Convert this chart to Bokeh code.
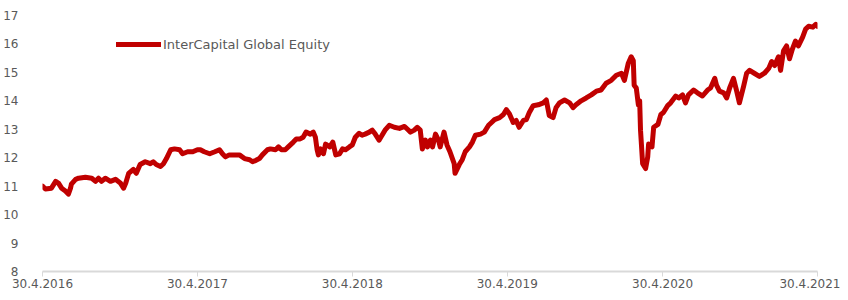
import pandas as pd
from bokeh.plotting import figure
from bokeh.models import FixedTicker, Range1d, Legend, LegendItem
from bokeh.embed import file_html
from bokeh.resources import INLINE

series_name = "InterCapital Global Equity"

dates = [
    "2016-04-30", "2016-05-07", "2016-05-21", "2016-05-31", "2016-06-07", "2016-06-14",
    "2016-06-23", "2016-06-30", "2016-07-05", "2016-07-07", "2016-07-17", "2016-07-24",
    "2016-08-09", "2016-08-24", "2016-09-02", "2016-09-09", "2016-09-16", "2016-09-25",
    "2016-10-07", "2016-10-19", "2016-10-31", "2016-11-07", "2016-11-12", "2016-11-19",
    "2016-11-30", "2016-12-07", "2016-12-16", "2016-12-28", "2017-01-09", "2017-01-16",
    "2017-01-23", "2017-02-02", "2017-02-09", "2017-02-16", "2017-02-26", "2017-03-07",
    "2017-03-19", "2017-03-26", "2017-04-07", "2017-04-19", "2017-04-30",
    "2017-05-07", "2017-05-16", "2017-05-29", "2017-06-10", "2017-06-21", "2017-06-28",
    "2017-07-05", "2017-07-14", "2017-07-26", "2017-08-07", "2017-08-19", "2017-08-31",
    "2017-09-07", "2017-09-14", "2017-09-23", "2017-09-30", "2017-10-12", "2017-10-19",
    "2017-10-31", "2017-11-07", "2017-11-14", "2017-11-23", "2017-11-30", "2017-12-12",
    "2017-12-19", "2017-12-28", "2018-01-04", "2018-01-11", "2018-01-21", "2018-01-28",
    "2018-02-02", "2018-02-06", "2018-02-09", "2018-02-14", "2018-02-21", "2018-02-26",
    "2018-03-08", "2018-03-15", "2018-03-22", "2018-03-31", "2018-04-07", "2018-04-14",
    "2018-04-23", "2018-04-30", "2018-05-07", "2018-05-16",
    "2018-05-23", "2018-05-30", "2018-06-09", "2018-06-16", "2018-06-23", "2018-07-02",
    "2018-07-09", "2018-07-16", "2018-07-26", "2018-08-07", "2018-08-19", "2018-08-31",
    "2018-09-07", "2018-09-14", "2018-09-23", "2018-09-30", "2018-10-07", "2018-10-12",
    "2018-10-19", "2018-10-24", "2018-10-31", "2018-11-05", "2018-11-12", "2018-11-19",
    "2018-11-23", "2018-12-02", "2018-12-09", "2018-12-16", "2018-12-26", "2018-12-28",
    "2019-01-07", "2019-01-14", "2019-01-21", "2019-01-31", "2019-02-07", "2019-02-14",
    "2019-02-26", "2019-03-07", "2019-03-17", "2019-03-24", "2019-03-31", "2019-04-12",
    "2019-04-21", "2019-04-28",
    "2019-05-05", "2019-05-14", "2019-05-21", "2019-05-28", "2019-06-07", "2019-06-14",
    "2019-06-21", "2019-06-30", "2019-07-12", "2019-07-24", "2019-07-31", "2019-08-07",
    "2019-08-16", "2019-08-23", "2019-08-31", "2019-09-12", "2019-09-24", "2019-10-02",
    "2019-10-09", "2019-10-21", "2019-11-02", "2019-11-14", "2019-11-26", "2019-12-07",
    "2019-12-19", "2019-12-31", "2020-01-12", "2020-01-24", "2020-01-31", "2020-02-09",
    "2020-02-16", "2020-02-21", "2020-02-23", "2020-02-28", "2020-03-04", "2020-03-07",
    "2020-03-09", "2020-03-14", "2020-03-21", "2020-03-26", "2020-03-28", "2020-04-05",
    "2020-04-09", "2020-04-19", "2020-04-26", "2020-05-02", "2020-05-12", "2020-05-19",
    "2020-05-31", "2020-06-07", "2020-06-16", "2020-06-23", "2020-06-30", "2020-07-12",
    "2020-07-21", "2020-08-02", "2020-08-14", "2020-08-21", "2020-08-31", "2020-09-04",
    "2020-09-11", "2020-09-21", "2020-09-28", "2020-10-05", "2020-10-14", "2020-10-21",
    "2020-10-28", "2020-11-07", "2020-11-14", "2020-11-21", "2020-12-02", "2020-12-14",
    "2020-12-26", "2021-01-05", "2021-01-12", "2021-01-19", "2021-01-28", "2021-02-02",
    "2021-02-09", "2021-02-16", "2021-02-23", "2021-03-02", "2021-03-09", "2021-03-16",
    "2021-03-26", "2021-04-02", "2021-04-09", "2021-04-19", "2021-04-26", "2021-04-30",
]

values = [
    11.00, 10.90, 10.93, 11.17, 11.10, 10.93,
    10.83, 10.72, 10.93, 11.07, 11.24, 11.28,
    11.31, 11.28, 11.17, 11.28, 11.17, 11.28,
    11.17, 11.24, 11.10, 10.93, 11.10, 11.45,
    11.59, 11.45, 11.76, 11.86, 11.79, 11.86,
    11.76, 11.69, 11.79, 11.97, 12.28, 12.31,
    12.28, 12.14, 12.21, 12.21, 12.28,
    12.28, 12.21, 12.14, 12.21, 12.28, 12.14,
    12.03, 12.10, 12.10, 12.10, 11.97, 11.93,
    11.86, 11.90, 11.97, 12.10, 12.28, 12.31,
    12.28, 12.38, 12.28, 12.28, 12.38, 12.55,
    12.66, 12.66, 12.72, 12.90, 12.83, 12.90,
    12.72, 12.28, 12.10, 12.31, 12.14, 12.48,
    12.38, 12.55, 12.10, 12.14, 12.31, 12.28,
    12.38, 12.45, 12.72, 12.86,
    12.79, 12.83, 12.90, 12.97, 12.83, 12.62,
    12.79, 12.97, 13.14, 13.07, 13.03, 13.10,
    13.00, 12.90, 12.97, 13.07, 12.97, 12.31,
    12.62, 12.38, 12.62, 12.38, 12.83, 12.62,
    12.38, 12.90, 12.45, 12.21, 11.79, 11.45,
    11.76, 11.93, 12.21, 12.38, 12.55, 12.79,
    12.83, 12.90, 13.14, 13.24, 13.34, 13.41,
    13.52, 13.69,
    13.55, 13.24, 13.31, 13.07, 13.31, 13.34,
    13.59, 13.83, 13.86, 13.93, 14.03, 13.48,
    13.41, 13.76, 13.93, 14.03, 13.93, 13.76,
    13.86, 14.00, 14.10, 14.21, 14.34, 14.38,
    14.62, 14.72, 14.90, 14.97, 14.72, 15.31,
    15.55, 15.41, 14.55, 14.45, 13.86, 14.00,
    12.97, 11.79, 11.62, 12.03, 12.48, 12.38,
    13.07, 13.17, 13.52, 13.59, 13.83, 13.93,
    14.17, 14.10, 14.21, 13.93, 14.21, 14.38,
    14.28, 14.17, 14.38, 14.45, 14.79, 14.55,
    14.34, 14.28, 14.10, 14.45, 14.79, 14.38,
    13.93, 14.52, 14.97, 15.07, 14.97, 14.86,
    14.97, 15.14, 15.38, 15.24, 15.55, 15.07,
    15.76, 15.93, 15.48, 15.83, 16.10, 15.93,
    16.24, 16.52, 16.62, 16.59, 16.69, 16.62,
]

tick_dates = ["2016-04-30", "2017-04-30", "2018-04-30", "2019-04-30", "2020-04-30", "2021-04-30"]
tick_labels = ["30.4.2016", "30.4.2017", "30.4.2018", "30.4.2019", "30.4.2020", "30.4.2021"]
y_ticks = [8, 9, 10, 11, 12, 13, 14, 15, 16, 17]

FONT = "DejaVu Sans"
GREY = "#595959"

x = pd.to_datetime(dates)
tick_ms = [pd.Timestamp(d).value / 1e6 for d in tick_dates]

p = figure(width=840, height=292, x_axis_type="datetime",
           output_backend="svg", toolbar_location=None,
           x_range=Range1d(tick_ms[0], tick_ms[-1]),
           y_range=Range1d(8, 17),
           min_border_left=39, min_border_right=23,
           min_border_top=15, min_border_bottom=21)
p.outline_line_color = None
p.background_fill_color = "white"
p.border_fill_color = "white"
p.xgrid.visible = False
p.ygrid.visible = False

r = p.line(x, values, line_color="#c00000", line_width=5,
           line_join="round", line_cap="round")

# x axis
xa = p.xaxis[0]
xa.ticker = FixedTicker(ticks=tick_ms, minor_ticks=[])
xa.major_label_overrides = {t: lab for t, lab in zip(tick_ms, tick_labels)}
xa.axis_line_color = "#d9d9d9"
xa.axis_line_width = 2
xa.major_tick_line_color = "#d9d9d9"
xa.major_tick_line_width = 1
xa.major_tick_in = 0
xa.major_tick_out = 5
xa.minor_tick_line_color = None
xa.major_label_standoff = 2
xa.major_label_text_font = FONT
xa.major_label_text_font_size = "12px"
xa.major_label_text_color = GREY

# y axis
ya = p.yaxis[0]
ya.ticker = FixedTicker(ticks=y_ticks, minor_ticks=[])
ya.axis_line_color = None
ya.major_tick_line_color = None
ya.minor_tick_line_color = None
ya.major_label_standoff = 18
ya.major_label_text_font = FONT
ya.major_label_text_font_size = "12px"
ya.major_label_text_color = GREY

legend = Legend(items=[LegendItem(label=series_name, renderers=[r])],
                location=(74, 217), orientation="vertical",
                glyph_width=45, glyph_height=20, label_standoff=2,
                padding=0, margin=0, spacing=0,
                border_line_color=None, background_fill_alpha=0,
                label_text_font=FONT, label_text_font_size="13px",
                label_text_color=GREY)
p.add_layout(legend)

open("out.html", "w").write(file_html(p, INLINE))
